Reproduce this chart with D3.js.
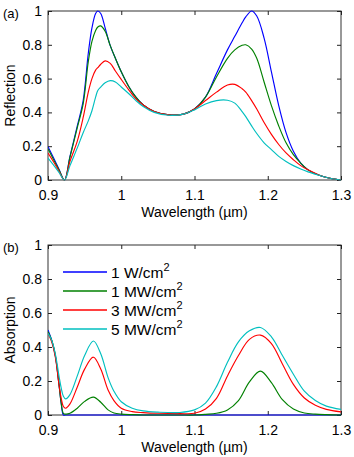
<!DOCTYPE html>
<html><head><meta charset="utf-8">
<script src="https://cdn.jsdelivr.net/npm/d3@7/dist/d3.min.js"></script>
<style>body{margin:0;background:#fff} text{font-family:"Liberation Sans",Arial,sans-serif}</style>
</head><body><svg id="c" width="354" height="457"></svg>
<script>
// ---- data: panel (a) reflection ----
const wlR = [0.900,0.910,0.915,0.9225,0.930,0.940,0.948,0.955,0.960,0.965,0.968,0.972,0.978,0.985,0.992,1.000,1.010,1.020,1.030,1.045,1.065,1.085,1.100,1.115,1.130,1.145,1.155,1.165,1.170,1.178,1.185,1.195,1.205,1.215,1.225,1.235,1.245,1.255,1.270,1.285,1.300];
const reflBlue  = [0.197,0.11,0.064,0.0,0.14,0.32,0.47,0.75,0.90,0.985,1.0,0.985,0.90,0.795,0.72,0.64,0.555,0.49,0.444,0.405,0.385,0.39,0.42,0.49,0.63,0.77,0.85,0.93,0.965,1.0,0.97,0.84,0.64,0.44,0.28,0.17,0.10,0.06,0.028,0.01,0.0];
const reflGreen = [0.185,0.10,0.06,0.0,0.135,0.31,0.45,0.70,0.82,0.885,0.905,0.912,0.88,0.795,0.72,0.64,0.555,0.49,0.444,0.405,0.385,0.39,0.42,0.49,0.61,0.72,0.77,0.797,0.80,0.775,0.72,0.58,0.44,0.32,0.22,0.15,0.10,0.06,0.028,0.01,0.0];
const reflRed   = [0.16,0.09,0.052,0.0,0.11,0.23,0.37,0.52,0.60,0.65,0.665,0.685,0.705,0.69,0.645,0.595,0.535,0.48,0.444,0.405,0.385,0.39,0.42,0.47,0.52,0.562,0.566,0.54,0.52,0.47,0.42,0.34,0.27,0.21,0.16,0.12,0.085,0.06,0.03,0.01,0.0];
const reflCyan  = [0.13,0.075,0.045,0.0,0.085,0.19,0.28,0.35,0.41,0.49,0.53,0.55,0.575,0.588,0.58,0.55,0.512,0.47,0.435,0.40,0.383,0.39,0.415,0.45,0.47,0.472,0.455,0.405,0.375,0.32,0.275,0.22,0.18,0.14,0.11,0.085,0.065,0.048,0.028,0.01,0.0];

// ---- data: panel (b) absorption ----
const wlA = [0.900,0.905,0.910,0.915,0.918,0.921,0.924,0.930,0.940,0.950,0.962,0.972,0.982,0.990,1.000,1.015,1.030,1.050,1.080,1.100,1.115,1.130,1.145,1.160,1.175,1.190,1.205,1.220,1.235,1.250,1.265,1.280,1.300];
const absBlue  = [0.50,0.44,0.35,0.18,0.07,0.0,0,0,0,0,0,0,0,0,0,0,0,0,0,0,0,0,0,0,0,0,0,0,0,0,0,0,0];
const absGreen = [0.49,0.44,0.35,0.18,0.07,0.01,0.005,0.01,0.04,0.08,0.105,0.075,0.03,0.012,0.005,0.002,0,0,0,0,0.004,0.01,0.03,0.085,0.195,0.258,0.19,0.09,0.035,0.012,0.005,0.002,0.0];
const absRed   = [0.48,0.43,0.34,0.18,0.10,0.05,0.04,0.065,0.165,0.27,0.34,0.27,0.147,0.085,0.04,0.02,0.014,0.01,0.008,0.01,0.035,0.098,0.23,0.35,0.445,0.47,0.42,0.30,0.18,0.10,0.057,0.033,0.018];
const absCyan  = [0.48,0.44,0.36,0.23,0.16,0.11,0.095,0.12,0.23,0.35,0.435,0.36,0.22,0.14,0.078,0.04,0.024,0.017,0.015,0.03,0.07,0.167,0.31,0.43,0.495,0.515,0.46,0.35,0.24,0.14,0.085,0.052,0.033];

const seriesLabels = ["1 W/cm","1 MW/cm","3 MW/cm","5 MW/cm"];
const colors = ["#0000ff","#008000","#ff0000","#00bfbf"];
const xTicks = [0.9,1,1.1,1.2,1.3];
const yTicks = [0,0.2,0.4,0.6,0.8,1];

const svg = d3.select("#c");
const X0 = 48, X1 = 341;
const x = d3.scaleLinear().domain([0.9,1.3]).range([X0,X1]);

function panel(top, bottom, wl, series, ylabel, tag, id, legend){
  const y = d3.scaleLinear().domain([0,1]).range([bottom, top]);
  const g = svg.append("g");
  g.append("clipPath").attr("id","clip"+id).append("rect")
    .attr("x",X0).attr("y",top-1).attr("width",X1-X0).attr("height",bottom-top+2);
  g.append("rect").attr("x",X0).attr("y",top).attr("width",X1-X0).attr("height",bottom-top)
    .attr("fill","none").attr("stroke","#333").attr("stroke-width",1);
  const fmt = d=>String(d);
  const ax = (gen, tr) => g.append("g").attr("transform",tr).call(gen)
     .call(a=>a.select(".domain").remove())
     .call(a=>a.selectAll("text").attr("font-size",14).attr("fill","#000").attr("font-family","'Liberation Sans',Arial,sans-serif"))
     .call(a=>a.selectAll("line").attr("stroke","#222"));
  ax(d3.axisBottom(x).tickValues(xTicks).tickFormat(fmt).tickSize(-4).tickPadding(10), `translate(0,${bottom})`);
  ax(d3.axisTop(x).tickValues(xTicks).tickFormat("").tickSize(-4), `translate(0,${top})`);
  ax(d3.axisLeft(y).tickValues(yTicks).tickFormat(fmt).tickSize(-4).tickPadding(6), `translate(${X0},0)`);
  ax(d3.axisRight(y).tickValues(yTicks).tickFormat("").tickSize(-4), `translate(${X1},0)`);
  const line = d3.line().x(d=>x(d[0])).y(d=>y(d[1])).curve(d3.curveCatmullRom.alpha(0.5));
  series.forEach((s,i)=>{
    g.append("path").datum(wl.map((w,j)=>[w,s[j]]))
      .attr("d",line).attr("fill","none").attr("stroke",colors[i]).attr("stroke-width",1.15)
      .attr("clip-path","url(#clip"+id+")");
  });
  g.append("text").attr("x",(X0+X1)/2).attr("y",bottom+37).attr("text-anchor","middle")
    .attr("font-size",14).text("Wavelength (\u00b5m)");
  g.append("text").attr("transform",`translate(15,${(top+bottom)/2}) rotate(-90)`)
    .attr("text-anchor","middle").attr("font-size",14).text(ylabel);
  g.append("text").attr("x",3).attr("y",top+7).attr("font-size",13).text(tag);
  if(legend){
    const lg = g.append("g").attr("class","legend");
    seriesLabels.forEach((lab,i)=>{
      const ly = Math.round(top + 26.5 + i*19.2);
      lg.append("path").attr("d",`M63,${ly}H107`)
        .attr("stroke",colors[i]).attr("stroke-width",1.3).attr("fill","none");
      const t = lg.append("text").attr("x",111).attr("y",ly+5.5).attr("font-size",15.5);
      t.append("tspan").text(lab);
      t.append("tspan").attr("dy",-6.5).attr("font-size",11).text("2");
    });
  }
}
panel(11, 180, wlR, [reflBlue,reflGreen,reflRed,reflCyan], "Reflection", "(a)", "a", false);
panel(245, 415, wlA, [absBlue,absGreen,absRed,absCyan], "Absorption", "(b)", "b", true);
</script></body></html>
